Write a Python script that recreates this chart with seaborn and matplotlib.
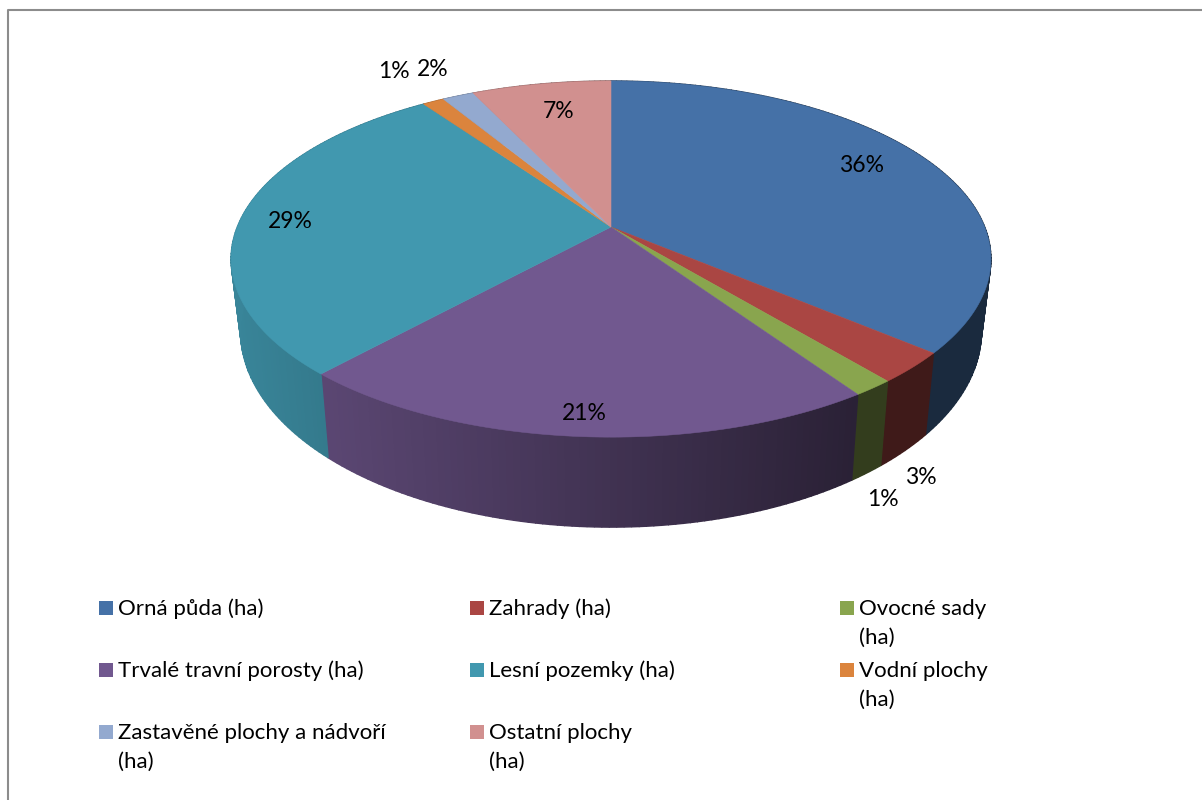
import numpy as np
import matplotlib
matplotlib.use('Agg')
import matplotlib.pyplot as plt
import seaborn as sns

# pie data (podil v procentech)
categories = ['Orná půda (ha)', 'Zahrady (ha)', 'Ovocné sady (ha)', 'Trvalé travní porosty (ha)',
              'Lesní pozemky (ha)', 'Vodní plochy (ha)', 'Zastavěné plochy a nádvoří (ha)', 'Ostatní plochy (ha)']
shares = [36.2, 2.8, 1.5, 21.25, 28.5, 1.1, 1.6, 7.05]
pct_labels = ['36%', '3%', '1%', '21%', '29%', '1%', '2%', '7%']
legend_lines = [['Orná půda (ha)'], ['Zahrady (ha)'], ['Ovocné sady', '(ha)'],
                ['Trvalé travní porosty (ha)'], ['Lesní pozemky (ha)'], ['Vodní plochy', '(ha)'],
                ['Zastavěné plochy a nádvoří', '(ha)'], ['Ostatní plochy', '(ha)']]
hex_colors = ['#4571a7', '#aa4643', '#89a54e', '#71588f', '#4198af', '#db843d', '#93a9cf', '#d1908f']

sns.set_theme(style='white')
plt.rcParams['font.family'] = ['Lato', 'DejaVu Sans']
palette = sns.color_palette(hex_colors)

fig = plt.figure(figsize=(12.02, 8), dpi=100)
ax = fig.add_axes([0, 0, 1, 1])
ax.set_xlim(0, 1202)
ax.set_ylim(800, 0)
ax.axis('off')

# ramecek grafu
ax.plot([8, 8, 1202], [800, 10, 10], color='#8c8c8c', lw=1.5)

# perspektiva kruhu
apex_x, apex_y = 611, 227
rx, ry, k = 373.7, 172.3, 0.18


def top_xy(theta):
    u, v = np.sin(theta), np.cos(theta)
    den = 1 + k * v
    return rx * u / den, -ry * v / den


def bottom_xy(theta):
    x, y = top_xy(theta)
    return 0.975 * x, 1.10 * y + 69


def shade(x):
    # boky jsou doprava tmavsi
    return np.clip(0.57 - 0.0008 * x, 0.37, 0.9)


edges = np.cumsum([0] + shares) / sum(shares) * 2 * np.pi

# boky
for i in range(len(shares)):
    steps = max(int((edges[i + 1] - edges[i]) * 60), 2)
    tt = np.linspace(edges[i], edges[i + 1], steps + 1)
    for a, b in zip(tt[:-1], tt[1:]):
        x1, y1 = top_xy(a)
        x2, y2 = top_xy(b)
        x3, y3 = bottom_xy(b)
        x4, y4 = bottom_xy(a)
        c = np.array(palette[i]) * shade((x1 + x2) / 2)
        ax.fill(apex_x + np.array([x1, x2, x3, x4]), apex_y + np.array([y1, y2, y3, y4]),
                color=tuple(c), lw=1.0, zorder=2)

# horni plocha
for i in range(len(shares)):
    steps = max(int((edges[i + 1] - edges[i]) * 120), 2)
    tt = np.linspace(edges[i], edges[i + 1], steps + 1)
    x, y = top_xy(tt)
    ax.fill(np.r_[apex_x, apex_x + x], np.r_[apex_y, apex_y + y], color=palette[i], lw=0.4, zorder=3)

# popisky procent
label_x = [862, 921, 883, 584, 290, 394, 433, 559]
label_y = [166, 478, 499, 413, 221, 71, 69, 112]
for i in range(len(pct_labels)):
    ax.text(label_x[i], label_y[i], pct_labels[i], fontsize=16.5, color='black',
            ha='center', va='center', zorder=5)

# legenda
col_x = [99, 470, 840]
row_y = [608, 670, 732]
for i in range(len(categories)):
    x0 = col_x[i % 3]
    y0 = row_y[i // 3]
    ax.scatter([x0 + 7], [y0], marker='s', s=(14 * 0.72) ** 2, color=palette[i], linewidths=0, zorder=4)
    for j, line in enumerate(legend_lines[i]):
        ax.text(x0 + 19, y0 + j * 29 + 1, line, fontsize=16, color='black', ha='left', va='center', zorder=5)

fig.savefig('out.png', dpi=100)
